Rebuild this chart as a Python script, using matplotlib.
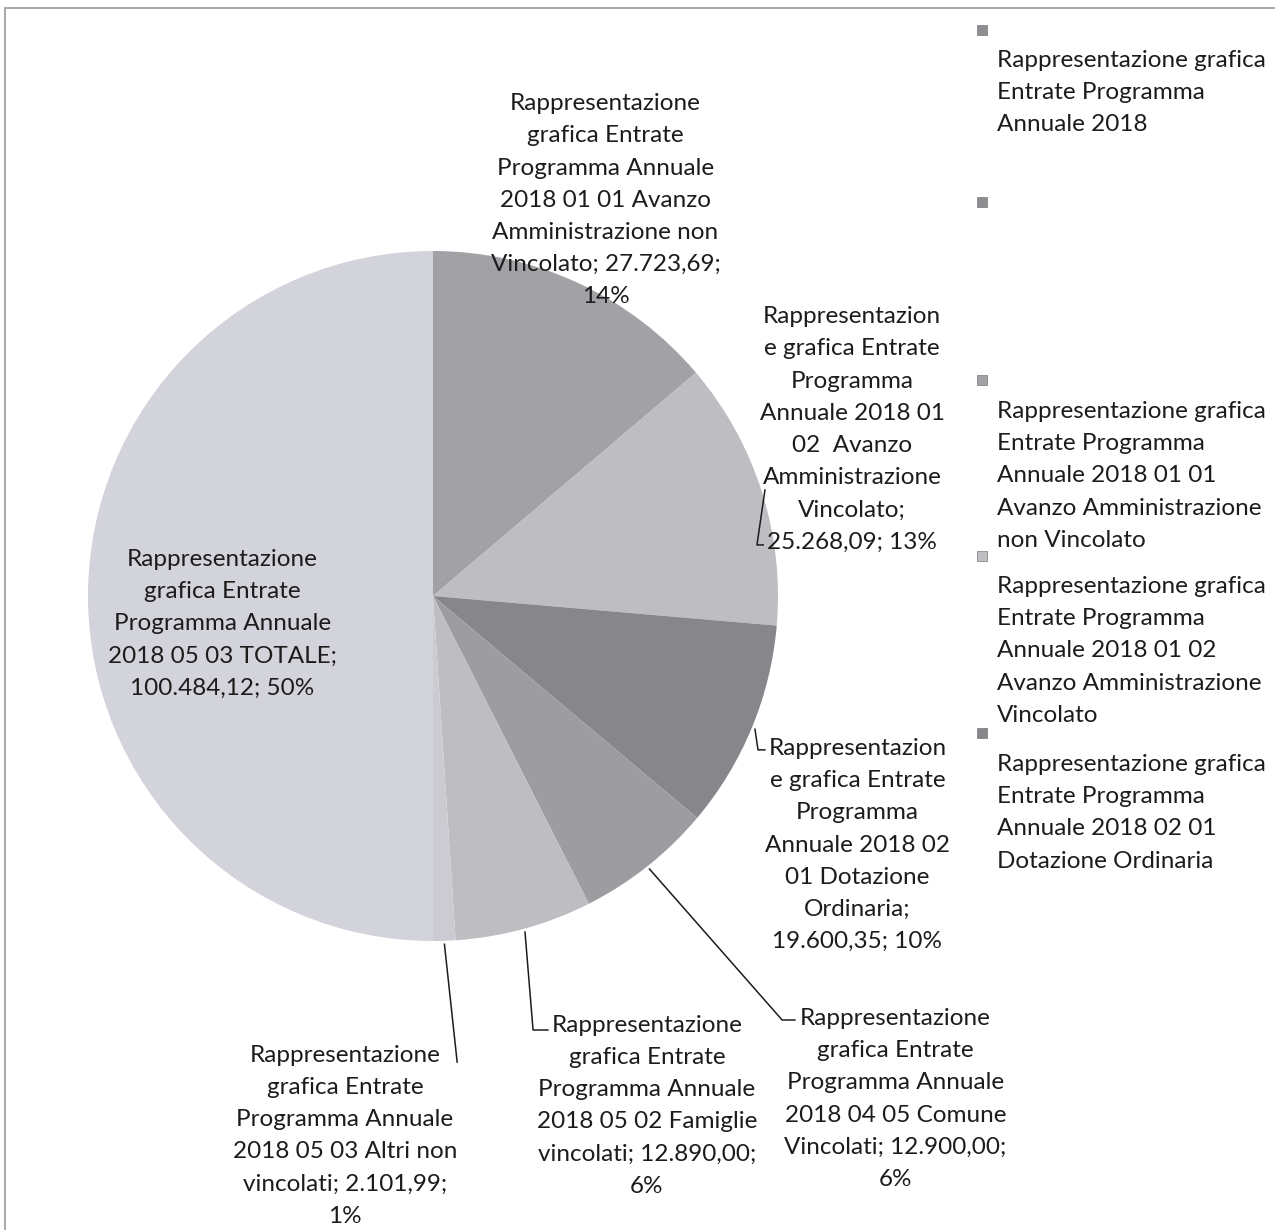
import numpy as np
import matplotlib.pyplot as plt
from matplotlib.patches import Rectangle

plt.rcParams['font.family'] = ['Lato', 'DejaVu Sans']

# Slice data (clockwise from 12 o'clock)
values = [27723.69, 25268.09, 19600.35, 12900.00, 12890.00, 2101.99, 100484.12]
colors = ['#a2a2a6', '#bebec2', '#86868b', '#9d9da1', '#bdbdc2', '#cbcbd1', '#d3d3db']
labels = [
    "Rappresentazione\ngrafica Entrate\nProgramma Annuale\n2018 01 01 Avanzo\nAmministrazione non\nVincolato; 27.723,69;\n14%",
    "Rappresentazion\ne grafica Entrate\nProgramma\nAnnuale 2018 01\n02  Avanzo\nAmministrazione\nVincolato;\n25.268,09; 13%",
    "Rappresentazion\ne grafica Entrate\nProgramma\nAnnuale 2018 02\n01 Dotazione\nOrdinaria;\n19.600,35; 10%",
    "Rappresentazione\ngrafica Entrate\nProgramma Annuale\n2018 04 05 Comune\nVincolati; 12.900,00;\n6%",
    "Rappresentazione\ngrafica Entrate\nProgramma Annuale\n2018 05 02 Famiglie\nvincolati; 12.890,00;\n6%",
    "Rappresentazione\ngrafica Entrate\nProgramma Annuale\n2018 05 03 Altri non\nvincolati; 2.101,99;\n1%",
    "Rappresentazione\ngrafica Entrate\nProgramma Annuale\n2018 05 03 TOTALE;\n100.484,12; 50%",
]
# label centres in pie units (radius = 1)
label_x = [0.50, 1.215, 1.23, 1.34, 0.62, -0.255, -0.61]
label_y = [1.147, 0.483, -0.722, -1.458, -1.477, -1.564, -0.081]
# leader lines: bend point and end point (None = no leader)
leader_bend = [None, (0.939, 0.148), (0.942, -0.446), (1.012, -1.229), (0.290, -1.258), (0.070, -1.351), None]
leader_end = [None, (0.957, 0.148), (0.962, -0.446), (1.049, -1.229), (0.333, -1.258), (0.070, -1.351), None]

legend_labels = [
    "Rappresentazione grafica\nEntrate Programma\nAnnuale 2018",
    "",
    "Rappresentazione grafica\nEntrate Programma\nAnnuale 2018 01 01\nAvanzo Amministrazione\nnon Vincolato",
    "Rappresentazione grafica\nEntrate Programma\nAnnuale 2018 01 02\nAvanzo Amministrazione\nVincolato",
    "Rappresentazione grafica\nEntrate Programma\nAnnuale 2018 02 01\nDotazione Ordinaria",
]
legend_colors = ['#8e8e92', '#8e8e92', '#a2a2a6', '#bebec2', '#86868b']

W, H = 1275, 1230
FS = 17.5
LS = 1.66
TXT = '#1c1c1c'

fig = plt.figure(figsize=(W / 100, H / 100), dpi=100)

# chart frame
fig.patches.append(Rectangle((5 / W, -0.01), 1.0, 1 - 8 / H + 0.01, transform=fig.transFigure,
                             fill=False, edgecolor='#9a9a9a', linewidth=1.2))

cx, cy, r = 433, 596, 345
ax = fig.add_axes([(cx - r) / W, 1 - (cy + r) / H, 2 * r / W, 2 * r / H])
wedges, _ = ax.pie(values, colors=colors, startangle=90, counterclock=False,
                   wedgeprops=dict(linewidth=0))
ax.set_xlim(-1, 1)
ax.set_ylim(-1, 1)
ax.set_aspect('auto')
ax.axis('off')

for w, txt, lx, ly, bend, end in zip(wedges, labels, label_x, label_y, leader_bend, leader_end):
    ax.text(lx, ly, txt, ha='center', va='center', fontsize=FS,
            linespacing=LS, color=TXT, clip_on=False)
    if bend is not None:
        mid = np.deg2rad((w.theta1 + w.theta2) / 2)
        ex, ey = 1.01 * np.cos(mid), 1.01 * np.sin(mid)
        ax.plot([ex, bend[0], end[0]], [ey, bend[1], end[1]],
                color=TXT, lw=1.1, clip_on=False)

# legend drawn like the reference: marker above each text block
leg_marker_y = [30, 202, 380, 556, 733]
leg_text_y = [50, 0, 401, 576, 754]
for lab, col, my, ty in zip(legend_labels, legend_colors, leg_marker_y, leg_text_y):
    fig.patches.append(Rectangle((977 / W, 1 - (my + 5) / H), 10 / W, 10 / H,
                                 transform=fig.transFigure, facecolor=col,
                                 edgecolor='#777777', linewidth=0.5))
    if lab:
        fig.text(997 / W, 1 - ty / H, lab, ha='left', va='top', fontsize=FS,
                 linespacing=LS, color=TXT)

fig.savefig('out.png', dpi=100)
